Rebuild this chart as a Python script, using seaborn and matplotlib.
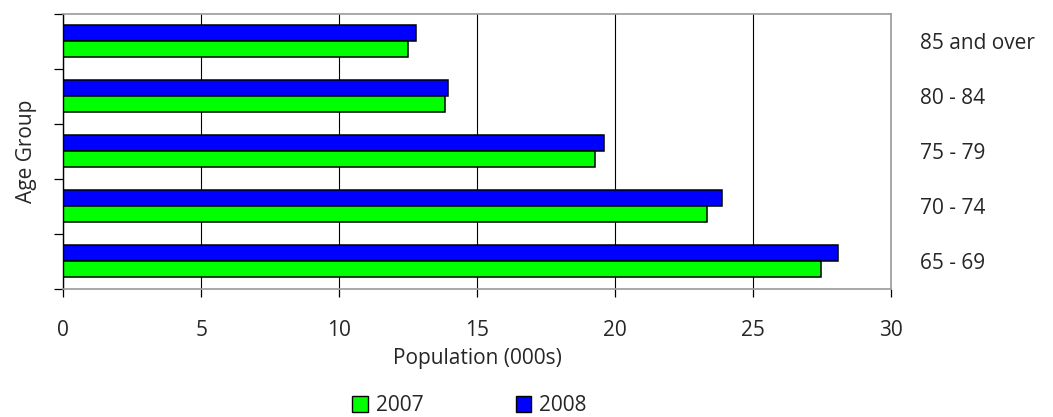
import pandas as pd
import matplotlib.pyplot as plt
import seaborn as sns
from matplotlib.patches import Patch

AGE_GROUPS = ["85 and over", "80 - 84", "75 - 79", "70 - 74", "65 - 69"]
POP_2007 = [12.48, 13.84, 19.27, 23.33, 27.46]
POP_2008 = [12.77, 13.93, 19.58, 23.86, 28.06]
YEARS = ["2007", "2008"]
COLORS = {"2007": "#00ff00", "2008": "#0000ff"}

df = pd.concat(
    [
        pd.DataFrame({"Age Group": AGE_GROUPS, "Population": POP_2007, "Year": "2007"}),
        pd.DataFrame({"Age Group": AGE_GROUPS, "Population": POP_2008, "Year": "2008"}),
    ],
    ignore_index=True,
)

sns.set_style("white")
plt.rcParams["font.family"] = ["Open Sans", "DejaVu Sans"]
FS = 15

fig = plt.figure(figsize=(10.53, 4.17), dpi=100)
ax = fig.add_axes([0.0601, 0.307, 0.7863, 0.6606])

sns.barplot(
    data=df,
    x="Population",
    y="Age Group",
    hue="Year",
    order=AGE_GROUPS,
    hue_order=["2008", "2007"],  # 2008 drawn above 2007 in each group
    palette=COLORS,
    saturation=1,
    orient="h",
    width=0.58,
    edgecolor="black",
    linewidth=1.1,
    legend=False,
    ax=ax,
)

ax.set_xlim(0, 30)
ax.set_ylim(4.5, -0.5)
ax.set_xticks(range(0, 31, 5))
ax.xaxis.grid(True, color="black", linewidth=0.8)
ax.set_axisbelow(True)

# category labels on the right, boundary ticks on the left
ax.set_yticks(range(len(AGE_GROUPS)))
ax.set_yticklabels(AGE_GROUPS)
ax.set_yticks([i - 0.5 for i in range(len(AGE_GROUPS) + 1)], minor=True)
ax.tick_params(axis="y", which="major", left=False, right=False,
               labelleft=False, labelright=True, pad=17, labelsize=FS)
ax.tick_params(axis="y", which="minor", left=True, length=6.5, width=0.9,
               color="black", direction="out")
ax.tick_params(axis="x", bottom=True, length=6, width=0.9, color="black",
               direction="out", pad=16, labelsize=FS)

for side in ["top", "right", "bottom"]:
    ax.spines[side].set_color("#999999")
    ax.spines[side].set_linewidth(1.2)
ax.spines["left"].set_color("black")
ax.spines["left"].set_linewidth(1.0)

ax.set_xlabel("Population (000s)", fontsize=FS)
ax.xaxis.set_label_coords(0.5, -0.215)
ax.set_ylabel("Age Group", fontsize=FS)
ax.yaxis.set_label_coords(-0.032, 0.5)

handles = [Patch(facecolor=COLORS[y], edgecolor="black", linewidth=1.0) for y in YEARS]
fig.legend(
    handles,
    YEARS,
    loc="center",
    bbox_to_anchor=(0.446, 0.027),
    ncol=2,
    frameon=False,
    fontsize=FS,
    handlelength=0.75,
    handleheight=0.8,
    handletextpad=0.4,
    columnspacing=4.4,
)

fig.savefig("out.png", dpi=100)
